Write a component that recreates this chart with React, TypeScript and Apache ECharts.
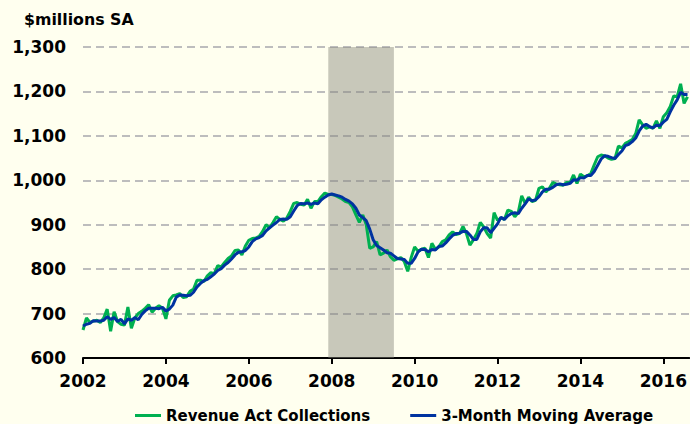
import React, { useEffect, useRef } from "react";
import * as echarts from "echarts";

const START_YEAR = 2002;
const YEAR_TICKS = [2002, 2004, 2006, 2008, 2010, 2012, 2014, 2016];
const Y_MIN = 600;
const Y_MAX = 1300;
const RECESSION = [2007.917, 2009.5];

// Monthly values, Jan 2002 .. Aug 2016 ($ millions SA)
const revenueAct = [
  663, 690, 680, 683, 685, 680, 690, 710, 660, 704, 682, 676,
  674, 715, 667, 690, 700, 705, 712, 720, 703, 712, 718, 712,
  688, 730, 740, 742, 745, 736, 738, 750, 755, 775, 775, 772,
  785, 792, 790, 808, 805, 815, 824, 830, 842, 843, 832, 852,
  865, 869, 870, 874, 885, 900, 893, 905, 918, 912, 908, 915,
  930, 948, 950, 946, 944, 957, 937, 952, 952, 963, 971, 968,
  968, 966, 962, 958, 952, 950, 940, 922, 905, 922, 900, 847,
  850, 862, 832, 836, 843, 828, 820, 823, 826, 817, 795, 826,
  850, 840, 845, 847, 826, 858, 845, 850, 862, 866, 877, 884,
  878, 880, 896, 880, 854, 866, 880, 905, 895, 880, 870, 927,
  910, 915, 912, 933, 930, 918, 928, 965, 948, 962, 952, 955,
  982, 985, 974, 982, 995, 992, 990, 989, 995, 995, 1012, 993,
  1014, 1008, 1010, 1015, 1035, 1053, 1057, 1055, 1050, 1047, 1049, 1077,
  1073, 1083, 1087, 1092, 1105, 1136, 1125, 1117, 1120, 1117, 1134, 1117,
  1143, 1152, 1166, 1190, 1188, 1217, 1173, 1188,
];

const movingAvg = [
  672, 676, 678, 684, 683, 683, 685, 693, 687, 691, 682, 687,
  677, 688, 685, 691, 686, 698, 706, 712, 712, 712, 711, 714,
  706, 710, 719, 737, 742, 741, 740, 741, 748, 760, 768, 774,
  777, 783, 789, 797, 801, 809, 815, 823, 832, 838, 839, 842,
  850, 862, 868, 871, 876, 886, 893, 899, 905, 912, 913, 912,
  918, 931, 943, 948, 947, 949, 946, 949, 947, 956, 962, 967,
  969, 967, 965, 962, 957, 953, 947, 937, 922, 916, 909, 890,
  866, 853, 848, 843, 837, 836, 830, 824, 823, 822, 813, 813,
  824, 839, 845, 844, 839, 844, 843, 851, 852, 859, 868, 876,
  880, 881, 885, 885, 877, 867, 867, 884, 893, 893, 882, 892,
  902, 917, 912, 920, 925, 927, 925, 937, 947, 958, 954, 956,
  963, 974, 980, 980, 984, 990, 992, 990, 991, 993, 1001, 1000,
  1006, 1005, 1011, 1011, 1020, 1034, 1048, 1055, 1054, 1051, 1049, 1058,
  1066, 1078, 1081, 1087, 1095, 1111, 1122, 1126, 1121, 1118, 1124, 1123,
  1131, 1137, 1154, 1169, 1181, 1198, 1193, 1193,
];

const FONT = "'DejaVu Sans', Verdana, sans-serif";

export default function App() {
  const ref = useRef<HTMLDivElement>(null);

  useEffect(() => {
    if (!ref.current) return;
    const chart = echarts.init(ref.current, undefined, { renderer: "svg" });
    const toPairs = (arr: number[]) => arr.map((v, i) => [START_YEAR + i / 12, v]);

    chart.setOption({
      animation: false,
      backgroundColor: "#FFFFEF",
      textStyle: { fontFamily: FONT },
      title: {
        text: "$millions SA",
        left: 19,
        top: 6,
        textStyle: { fontFamily: FONT, fontWeight: "bold", fontSize: 15.8, color: "#000" },
      },
      legend: {
        left: 130,
        top: 403,
        itemGap: 40,
        itemWidth: 26,
        itemHeight: 3,
        icon: "rect",
        data: ["Revenue Act Collections", "3-Month Moving Average"],
        textStyle: { fontFamily: FONT, fontWeight: "bold", fontSize: 15, color: "#000" },
      },
      grid: { left: 83, right: 0, top: 47, bottom: 66, containLabel: false },
      xAxis: {
        type: "value",
        min: START_YEAR,
        max: 2016.625,
        interval: 2,
        splitLine: { show: false },
        axisLine: { show: true, lineStyle: { color: "#000", width: 2 } },
        axisTick: { show: true, length: 6, lineStyle: { color: "#000", width: 2 }, customValues: YEAR_TICKS },
        axisLabel: {
          customValues: YEAR_TICKS,
          margin: 14,
          fontFamily: FONT,
          fontWeight: "bold",
          fontSize: 17,
          color: "#000",
          formatter: (v: number) => String(Math.round(v)),
        },
      },
      yAxis: {
        type: "value",
        min: Y_MIN,
        max: Y_MAX,
        interval: 100,
        axisLine: { show: false },
        axisTick: { show: false },
        splitLine: { show: true, lineStyle: { color: "#BDBDBD", width: 2, type: [8, 5] } },
        axisLabel: {
          margin: 17,
          fontFamily: FONT,
          fontWeight: "bold",
          fontSize: 17,
          color: "#000",
          formatter: (v: number) => v.toLocaleString("en-US"),
        },
      },
      series: [
        {
          name: "recession",
          type: "line",
          data: [[START_YEAR, Y_MIN]],
          showSymbol: false,
          lineStyle: { opacity: 0 },
          silent: true,
          z: 1,
          markArea: {
            silent: true,
            itemStyle: { color: "rgba(133,133,121,0.45)" },
            data: [[{ xAxis: RECESSION[0] }, { xAxis: RECESSION[1] }]],
          },
        },
        {
          name: "Revenue Act Collections",
          type: "line",
          data: toPairs(revenueAct),
          showSymbol: false,
          symbol: "none",
          itemStyle: { color: "#00B050" },
          lineStyle: { color: "#00B050", width: 3 },
          z: 3,
        },
        {
          name: "3-Month Moving Average",
          type: "line",
          data: toPairs(movingAvg),
          showSymbol: false,
          symbol: "none",
          itemStyle: { color: "#0033A0" },
          lineStyle: { color: "#0033A0", width: 3 },
          z: 4,
        },
      ],
    });

    return () => chart.dispose();
  }, []);

  return <div ref={ref} style={{ position: "fixed", left: 0, top: 0, width: 690, height: 424 }} />;
}
